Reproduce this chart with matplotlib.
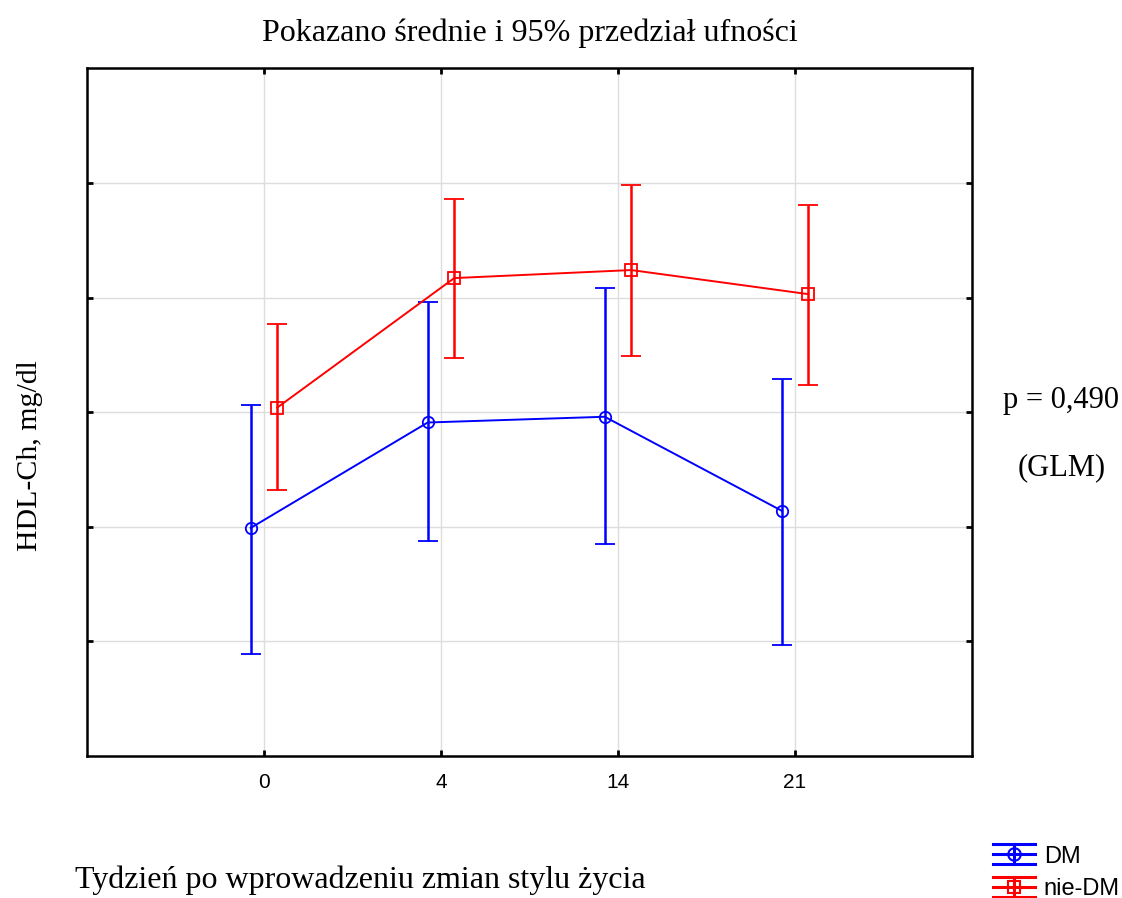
import matplotlib
matplotlib.use("Agg")
import matplotlib.pyplot as plt
from matplotlib.legend_handler import HandlerBase
from matplotlib.lines import Line2D
import numpy as np

# tygodnie pomiaru
weeks = ["0", "4", "14", "21"]

# DM: średnie i granice 95% CI
dm_mean = [1.99, 2.91, 2.96, 2.14]
dm_low = [0.89, 1.88, 1.85, 0.97]
dm_high = [3.06, 3.96, 4.08, 3.29]

# nie-DM: średnie i granice 95% CI
ndm_mean = [3.04, 4.17, 4.24, 4.03]
ndm_low = [2.32, 3.47, 3.49, 3.24]
ndm_high = [3.77, 4.86, 4.98, 4.81]

serif = "Liberation Serif"
sans = "Liberation Sans"


class ErrHandler(HandlerBase):
    # ikonka legendy: trzy poziome kreski, pionowy słupek i marker
    def create_artists(self, legend, orig_handle, xdescent, ydescent,
                       width, height, fontsize, trans):
        ln = orig_handle.lines[0]
        c = ln.get_color()
        x0, x1 = -xdescent, -xdescent + width
        xm = (x0 + x1) / 2
        yc = height / 2 - ydescent
        dy = height * 0.6
        arts = []
        for y in (yc - dy, yc, yc + dy):
            arts.append(Line2D([x0, x1], [y, y], color=c, lw=2.2))
        arts.append(Line2D([xm, xm], [yc - dy, yc + dy], color=c, lw=2.2))
        arts.append(Line2D([xm], [yc], marker=ln.get_marker(), ms=9,
                           mfc="none", mec=c, mew=1.5, ls="none"))
        for a in arts:
            a.set_transform(trans)
        return arts


fig = plt.figure(figsize=(11.22, 8.98), dpi=100)
ax = fig.add_axes([0.0775, 0.1581, 0.7888, 0.7658])

x = np.arange(len(weeks))
shift = 0.075

def draw(xpos, mean, low, high, color, marker, ms, label):
    mean = np.array(mean)
    err = [mean - np.array(low), np.array(high) - mean]
    return ax.errorbar(xpos, mean, yerr=err, color=color, ecolor=color,
                       lw=1.4, elinewidth=1.8, capsize=7, capthick=1.8,
                       marker=marker, ms=ms, mfc="none", mec=color, mew=1.3,
                       label=label, zorder=3)

h1 = draw(x - shift, dm_mean, dm_low, dm_high, "#0000ff", "o", 8.2, "DM")
h2 = draw(x + shift, ndm_mean, ndm_low, ndm_high, "#ff0000", "s", 8.4, "nie-DM")

ax.set_xlim(-1, 4)
ax.set_ylim(0, 6)
ax.set_xticks(x)
ax.set_xticklabels(weeks, fontfamily=sans, fontsize=15)
ax.set_yticks([1, 2, 3, 4, 5])
ax.set_yticklabels([])
ax.grid(True, color="#dddddd", lw=1)
ax.set_axisbelow(True)
ax.tick_params(direction="in", length=4, width=2, top=True, right=True, pad=12)
for s in ax.spines.values():
    s.set_linewidth(1.8)

fig.text(0.472, 0.963, "Pokazano średnie i 95% przedział ufności",
         fontfamily=serif, fontsize=23, ha="center", va="center")
fig.text(0.027, 0.493, "HDL-Ch, mg/dl", fontfamily=serif, fontsize=21.5,
         rotation=90, ha="center", va="center")
fig.text(0.067, 0.02, "Tydzień po wprowadzeniu zmian stylu życia",
         fontfamily=serif, fontsize=23, ha="left", va="center")
fig.text(0.946, 0.554, "p = 0,490", fontfamily=serif, fontsize=22,
         ha="center", va="center")
fig.text(0.946, 0.479, "(GLM)", fontfamily=serif, fontsize=22,
         ha="center", va="center")

fig.legend(handles=[h1, h2], loc="center left", bbox_to_anchor=(0.885, 0.028),
           frameon=False, prop={"family": sans, "size": 17},
           handler_map={h1: ErrHandler(), h2: ErrHandler()},
           handlelength=1.8, handletextpad=0.35, labelspacing=0.45,
           borderpad=0, borderaxespad=0)

fig.savefig("out.png", dpi=100)
